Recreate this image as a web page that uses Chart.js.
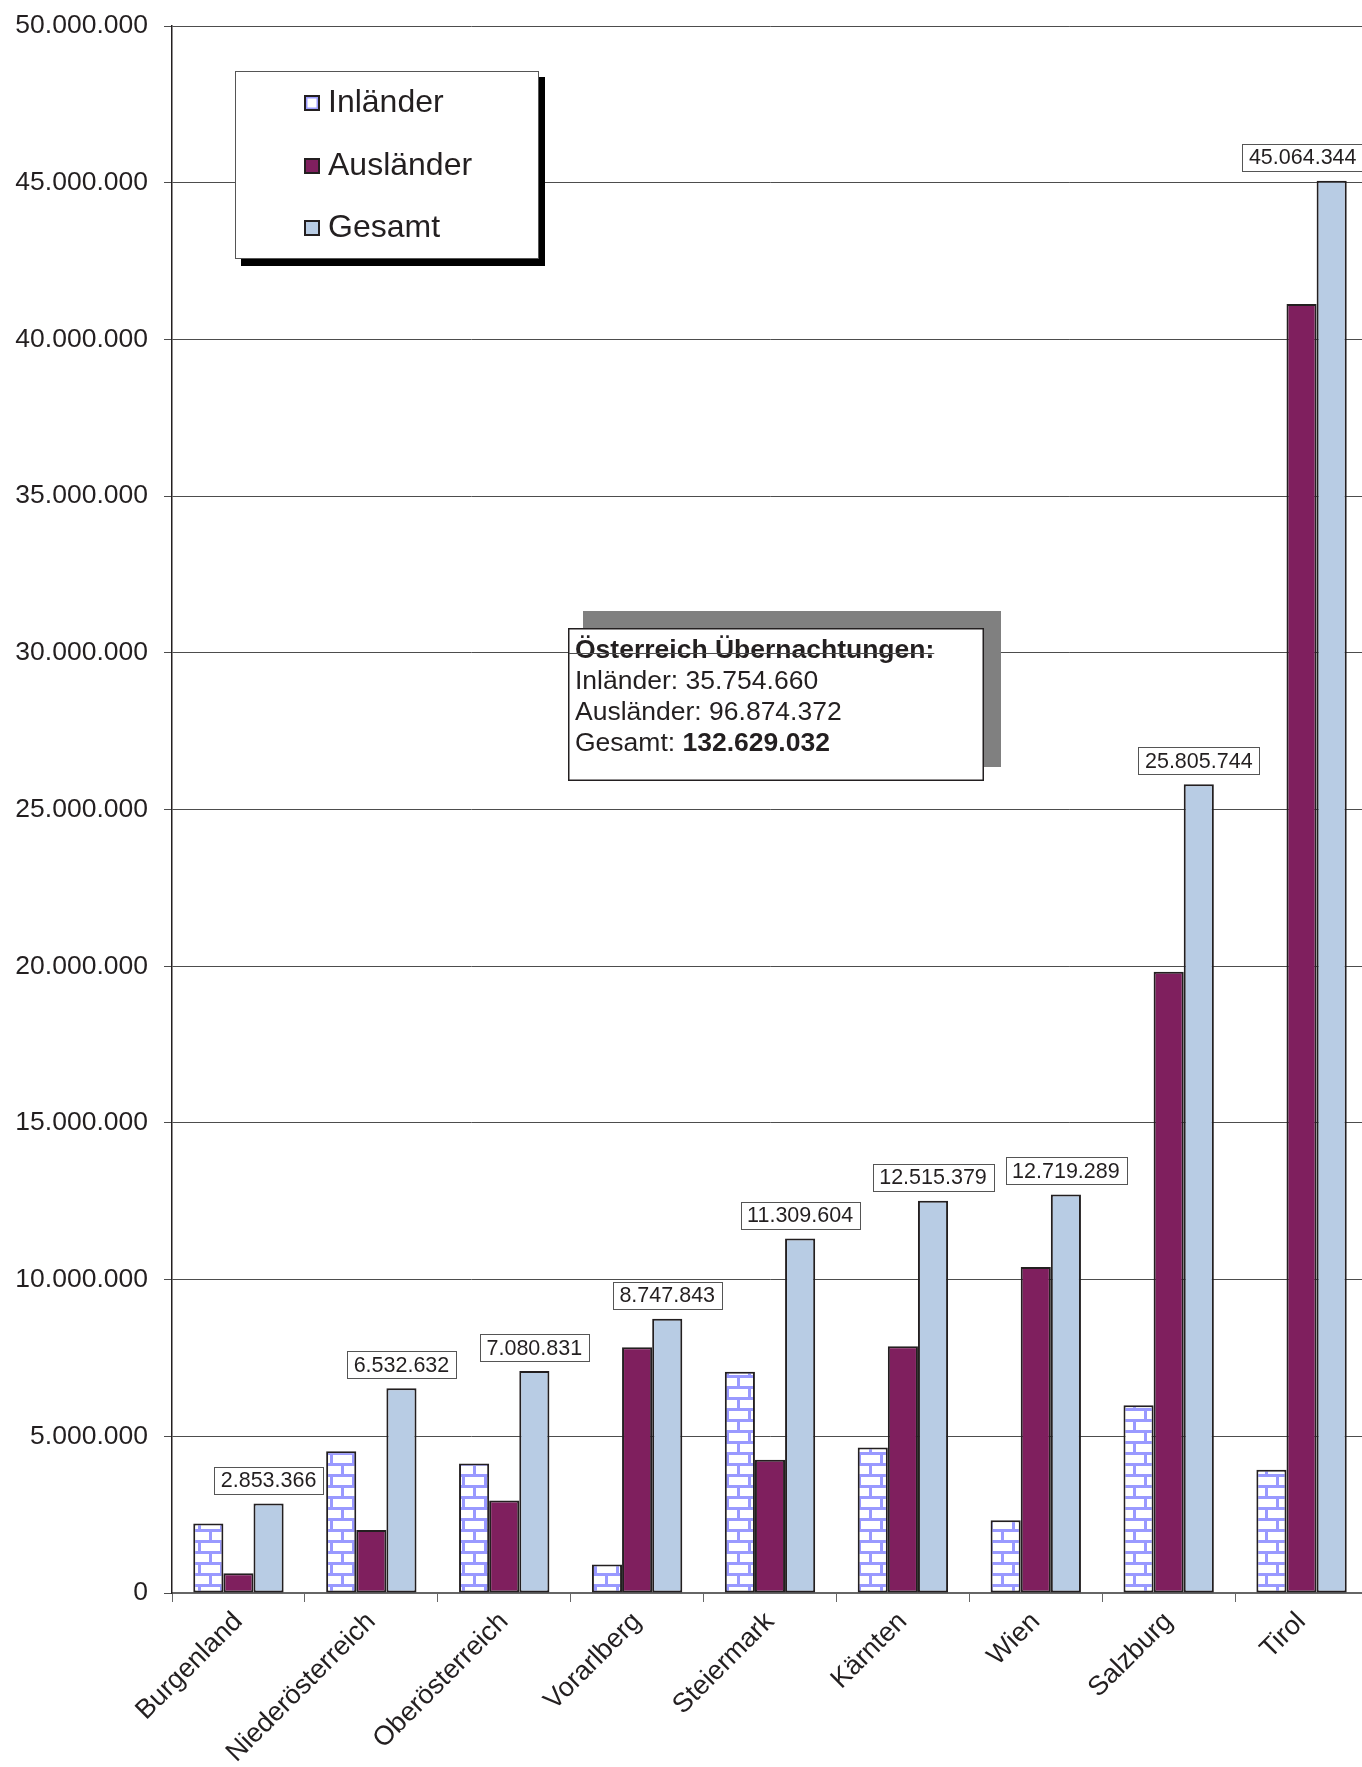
<!DOCTYPE html>
<html>
<head>
<meta charset="utf-8">
<script src="https://cdn.jsdelivr.net/npm/chart.js@4.4.1/dist/chart.umd.min.js"></script>
<style>
  html, body { margin: 0; padding: 0; background: #ffffff; overflow: hidden; width: 1362px; height: 1767px; }
  #wrap { width: 1362px; height: 1767px; overflow: hidden; }
</style>
</head>
<body>
<div id="wrap"><canvas id="c" width="1368" height="1767"></canvas></div>
<script>
// ---- data ----
const categories = ['Burgenland', 'Niederösterreich', 'Oberösterreich', 'Vorarlberg', 'Steiermark', 'Kärnten', 'Wien', 'Salzburg', 'Tirol'];
const seriesNames = ['Inländer', 'Ausländer', 'Gesamt'];
const inlaender  = [2220000, 4520000, 4130000, 910000, 7060000, 4640000, 2320000, 5990000, 3930000];
const auslaender = [630000, 2010000, 2950000, 7840000, 4250000, 7870000, 10400000, 19820000, 41130000];
const gesamt     = [2853366, 6532632, 7080831, 8747843, 11309604, 12515379, 12719289, 25805744, 45064344];
const yMin = 0, yMax = 50000000, yStep = 5000000;
const infoTitle = 'Österreich Übernachtungen:';
const infoLines = [['Inländer: ', '35.754.660'], ['Ausländer: ', '96.874.372'], ['Gesamt: ', '132.629.032']];

// ---- helpers ----
const FONT = '"Liberation Sans", Arial, Helvetica, sans-serif';
const TXT = '#231f20';
const VISIBLE_W = 1362;
function fmt(n) { return String(Math.round(n)).replace(/\B(?=(\d{3})+(?!\d))/g, '.'); }

function brickPattern() {
  const t = document.createElement('canvas');
  t.width = 22; t.height = 22;
  const g = t.getContext('2d');
  g.fillStyle = '#ffffff'; g.fillRect(0, 0, 22, 22);
  g.fillStyle = '#9999ff';
  g.fillRect(0, 0, 22, 3);
  g.fillRect(0, 11, 22, 3);
  g.fillRect(0, 0, 3, 11);
  g.fillRect(11, 11, 3, 11);
  return document.getElementById('c').getContext('2d').createPattern(t, 'repeat');
}
const brick = brickPattern();
const colors = [brick, '#7f1f5e', '#b8cce4'];

// ---- plugins ----
const valueLabels = {
  id: 'valueLabels',
  afterDatasetsDraw(chart) {
    const ctx = chart.ctx;
    const meta = chart.getDatasetMeta(2);
    ctx.save();
    ctx.font = '21.5px ' + FONT;
    meta.data.forEach((bar, i) => {
      const txt = fmt(gesamt[i]);
      const w = ctx.measureText(txt).width + 13;
      const h = 27;
      let left = bar.x - w / 2;
      if (left + w > VISIBLE_W + 1) left = VISIBLE_W + 1 - w;
      const top = bar.y - 10 - h;
      ctx.fillStyle = '#ffffff';
      ctx.fillRect(left, top, w, h);
      ctx.strokeStyle = '#555555';
      ctx.lineWidth = 1;
      ctx.strokeRect(Math.round(left) + 0.5, Math.round(top) + 0.5, Math.round(w), Math.round(h));
      ctx.fillStyle = TXT;
      ctx.textAlign = 'left';
      ctx.textBaseline = 'middle';
      ctx.fillText(txt, left + 6.5, top + h / 2 + 1);
    });
    ctx.restore();
  }
};

const decorations = {
  id: 'decorations',
  afterDraw(chart) {
    const ctx = chart.ctx;
    ctx.save();
    // legend box
    ctx.fillStyle = '#000000';
    ctx.fillRect(241, 77, 304, 189);
    ctx.fillStyle = '#ffffff';
    ctx.fillRect(235, 71, 304, 188);
    ctx.strokeStyle = '#555555';
    ctx.lineWidth = 1;
    ctx.strokeRect(235.5, 71.5, 303, 187);
    const rows = [102.5, 165.5, 227.5];
    ctx.font = '32px ' + FONT;
    ctx.textBaseline = 'middle';
    ctx.textAlign = 'left';
    rows.forEach((ry, i) => {
      const mx = 304, my = Math.round(ry - 8);
      if (i === 0) {
        ctx.fillStyle = '#ffffff'; ctx.fillRect(mx, my, 16, 16);
        ctx.strokeStyle = '#9d9dff'; ctx.lineWidth = 2; ctx.strokeRect(mx + 2.5, my + 2.5, 11, 11);
      } else {
        ctx.fillStyle = colors[i]; ctx.fillRect(mx, my, 16, 16);
      }
      ctx.strokeStyle = '#231f20'; ctx.lineWidth = 2;
      ctx.strokeRect(mx + 1, my + 1, 14, 14);
      ctx.fillStyle = TXT;
      ctx.fillText(seriesNames[i], 328, ry + 1);
    });

    // info box
    ctx.fillStyle = '#808080';
    ctx.fillRect(583, 611, 418, 156);
    ctx.fillStyle = '#ffffff';
    ctx.fillRect(568, 628, 416, 153);
    ctx.strokeStyle = '#231f20';
    ctx.lineWidth = 1.5;
    ctx.strokeRect(568.75, 628.75, 414.5, 151.5);
    ctx.textBaseline = 'middle';
    ctx.fillStyle = TXT;
    ctx.font = 'bold 26.5px ' + FONT;
    ctx.fillText(infoTitle, 575, 651);
    const titleW = ctx.measureText(infoTitle).width;
    const lineY = [682, 713, 744];
    infoLines.forEach((pair, i) => {
      ctx.font = '26.5px ' + FONT;
      ctx.fillText(pair[0], 575, lineY[i]);
      const w0 = ctx.measureText(pair[0]).width;
      ctx.font = (i === 2 ? 'bold ' : '') + '26.5px ' + FONT;
      ctx.fillText(pair[1], 575 + w0, lineY[i]);
    });
    // gridline shows through the title text area
    const gy = Math.round(chart.scales.y.getPixelForValue(30000000)) + 0.5;
    ctx.strokeStyle = '#4d4d4d';
    ctx.lineWidth = 1;
    ctx.beginPath();
    ctx.moveTo(569, gy);
    ctx.lineTo(575 + titleW, gy);
    ctx.stroke();
    ctx.restore();
  }
};

// ---- chart ----
new Chart(document.getElementById('c'), {
  type: 'bar',
  data: {
    labels: categories,
    datasets: [
      { label: seriesNames[0], data: inlaender, backgroundColor: colors[0] },
      { label: seriesNames[1], data: auslaender, backgroundColor: colors[1] },
      { label: seriesNames[2], data: gesamt, backgroundColor: colors[2] }
    ].map(d => Object.assign(d, {
      borderColor: '#231f20', borderWidth: 2, borderSkipped: false,
      categoryPercentage: 0.68, barPercentage: 1.0
    }))
  },
  options: {
    responsive: false,
    animation: false,
    devicePixelRatio: 1,
    layout: { padding: { top: 26, right: 0, bottom: 0, left: 0 } },
    plugins: { legend: { display: false }, tooltip: { enabled: false } },
    scales: {
      x: {
        offset: true,
        grid: { display: true, drawOnChartArea: false, drawTicks: true, tickLength: 9, color: '#666666', lineWidth: 1, offset: true },
        border: { display: true, color: '#666666', width: 2 },
        ticks: { color: TXT, font: { family: FONT, size: 27 }, minRotation: 45, maxRotation: 45, autoSkip: false, padding: 4 },
        afterFit(scale) { scale.height = 174; scale.paddingLeft = 0; scale.paddingRight = 0; }
      },
      y: {
        min: yMin, max: yMax,
        grid: { color: '#4d4d4d', lineWidth: 1, tickLength: 8, drawTicks: true },
        border: { display: true, color: '#231f20', width: 1.5 },
        ticks: { stepSize: yStep, color: TXT, font: { family: FONT, size: 26.5 }, padding: 16, callback: v => fmt(v) },
        afterFit(scale) { scale.width = 172; scale.paddingTop = 0; scale.paddingBottom = 0; }
      }
    }
  },
  plugins: [valueLabels, decorations]
});
</script>
</body>
</html>
